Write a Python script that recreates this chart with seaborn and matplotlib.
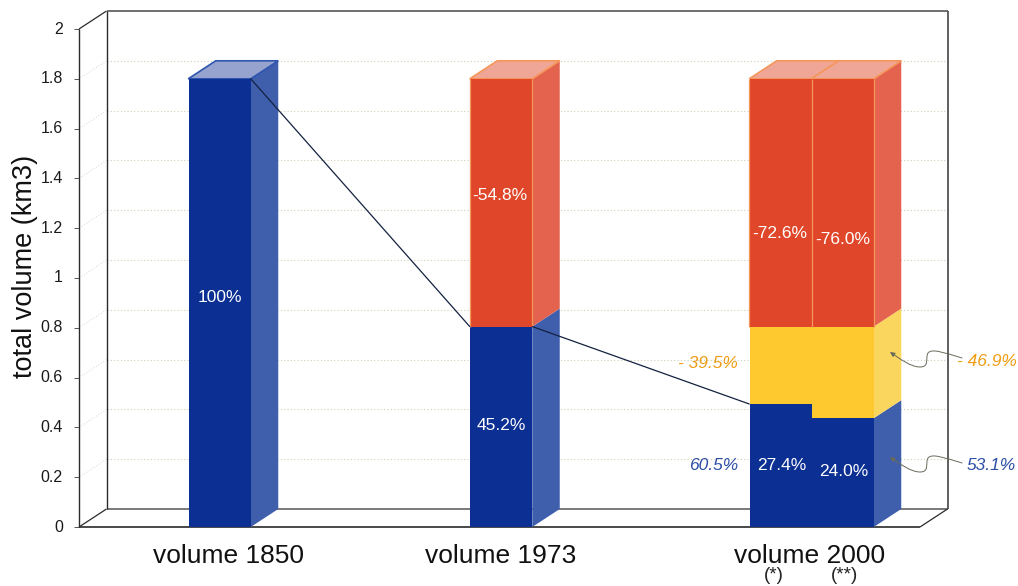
import numpy as np
import pandas as pd
import matplotlib
matplotlib.use("Agg")
import matplotlib.pyplot as plt
from matplotlib.path import Path
from matplotlib.patches import FancyArrowPatch
from matplotlib.transforms import Affine2D
import seaborn as sns

# ---- data ----
group_labels = ["volume 1850", "volume 1973", "volume 2000"]
sub_labels = ["(*)", "(**)"]
total_volume = [1.80, 1.80, 1.80, 1.80]
mid_level = [np.nan, np.nan, 0.805, 0.805]
remaining = [1.80, 0.805, 0.494, 0.437]
y_ticks = [0, 0.2, 0.4, 0.6, 0.8, 1, 1.2, 1.4, 1.6, 1.8, 2]
y_tick_labels = ["0", "0.2", "0.4", "0.6", "0.8", "1", "1.2", "1.4", "1.6", "1.8", "2"]
inside_labels = ["100%", "-54.8%", "45.2%", "-72.6%", "-76.0%", "27.4%", "24.0%"]
orange_labels = ["- 39.5%", "- 46.9%"]
blue_labels = ["60.5%", "53.1%"]

# ---- layout (x axis is laid out in the picture's own unit) ----
W, H = 1018, 586
centres = [219.5, 501, 780.5, 842.5]
bar_w = 62.0
X0, X1 = 79, 920
DX = 27.5
DY = 18 / 249.0

BLUE, BLUE_S, BLUE_T = "#0B2F93", "#3F5FAD", "#95A3CE"
RED, RED_S, RED_T = "#E0472A", "#E4634F", "#F0A696"
YEL, YEL_S = "#FDC92F", "#FBD65E"
EDGE_R = "#F5965A"

sns.set_style("white")
plt.rcParams["font.family"] = ["Liberation Sans", "DejaVu Sans"]

fig = plt.figure(figsize=(W / 100, H / 100), dpi=100)
ax = fig.add_axes([X0 / W, (H - 527) / H, (X1 - X0) / W, 498 / H])
px = Affine2D().scale(1 / W, -1 / H).translate(0, 1) + fig.transFigure

df = pd.DataFrame({"x": centres, "total": total_volume, "mid": mid_level, "rem": remaining})


def stack(col, data, color):
    sns.barplot(data=data, x="x", y=col, native_scale=True, width=1.0, color=color,
                saturation=1, ax=ax, zorder=5, errorbar=None, linewidth=0)


stack("total", df[df.x > 300], RED)
stack("mid", df[df.mid.notna()], YEL)
stack("rem", df, BLUE)
ax.set_xlim(X0, X1)
ax.set_ylim(0, 2)
sns.despine(ax=ax, left=True, bottom=True, top=True, right=True)
ax.set_xlabel("")
ax.set_ylabel("")


def poly(xs, ys, color, z=4, edge=None, lw=0):
    ax.fill(xs, ys, facecolor=color, edgecolor=edge or color, linewidth=lw, clip_on=False, zorder=z)


def side(x_right, y0, y1, color):
    poly([x_right, x_right + DX, x_right + DX, x_right],
         [y0, y0 + DY, y1 + DY, y1], color)


def top(x_left, x_right, y, color, edge):
    poly([x_left, x_right, x_right + DX, x_left + DX],
         [y, y, y + DY, y + DY], color, edge=edge, lw=1.2)


half = bar_w / 2 + 0.25
# bar 1
r = centres[0] + half
side(r, 0, remaining[0], BLUE_S)
top(centres[0] - half, r, remaining[0], BLUE_T, "#2F55B0")
# bar 2
r = centres[1] + half
side(r, 0, remaining[1], BLUE_S)
side(r, remaining[1], total_volume[1], RED_S)
top(centres[1] - half, r, total_volume[1], RED_T, EDGE_R)
# bar 3
r = centres[3] + half
side(r, 0, remaining[3], BLUE_S)
side(r, remaining[3], mid_level[3], YEL_S)
side(r, mid_level[3], total_volume[3], RED_S)
top(centres[2] - half, centres[2] + half, total_volume[2], RED_T, EDGE_R)
top(centres[3] - half, r, total_volume[3], RED_T, EDGE_R)

# thin orange outlines on the red parts only
edge_kw = dict(color=EDGE_R, lw=0.9, clip_on=False, zorder=6, solid_capstyle="butt")
for x_edge, lo, hi in [
    (centres[1] - half, remaining[1], total_volume[1]),
    (centres[1] + half, remaining[1], total_volume[1]),
    (centres[2] - half, mid_level[2], total_volume[2]),
    (centres[2] + half, mid_level[2], total_volume[2]),
    (centres[3] + half, mid_level[3], total_volume[3]),
]:
    ax.plot([x_edge, x_edge], [lo, hi], **edge_kw)

# ---- 3D frame and gridlines ----
FRAME = "#2b2b2b"
BX0, BX1 = X0 + DX, X1 + DX
for t in y_ticks[1:-1]:
    ax.plot([BX0, BX1], [t + DY, t + DY], color="#cfcfb8", lw=0.8, ls=(0, (1, 2)),
            clip_on=False, zorder=1)
    ax.plot([X0, BX0], [t, t + DY], color="#cfd3d8", lw=0.7, ls=(0, (1, 2)),
            clip_on=False, zorder=1)
seg = dict(clip_on=False, zorder=2, solid_capstyle="butt")
ax.plot([X0, X1], [0, 0], color="#3a3a3a", lw=1.3, **seg)
ax.plot([BX0, BX1], [DY, DY], color="#555555", lw=1.1, **seg)
ax.plot([X0, X0], [0, 2], color=FRAME, lw=1.0, **seg)
ax.plot([BX0, BX0], [DY, 2 + DY], color=FRAME, lw=1.0, **seg)
ax.plot([BX1, BX1], [DY, 2 + DY], color="#444444", lw=1.2, **seg)
ax.plot([BX0, BX1], [2 + DY, 2 + DY], color="#555555", lw=1.2, **seg)
ax.plot([X0, BX0], [0, DY], color=FRAME, lw=0.9, **seg)
ax.plot([X0, BX0], [2, 2 + DY], color=FRAME, lw=0.9, **seg)
ax.plot([X1, BX1], [0, DY], color=FRAME, lw=0.9, **seg)

# ---- connecting lines ----
link = dict(color="#14213f", lw=0.9, clip_on=False, zorder=7)
ax.plot([centres[0] + half, centres[1] - half], [remaining[0], remaining[1]], **link)
ax.plot([centres[1] + half, centres[2] - half], [remaining[1], remaining[2]], **link)

# ---- axes text ----
ax.set_yticks(y_ticks, y_tick_labels, fontsize=11.5, color="#1a1a1a")
ax.tick_params(axis="y", length=3.6, width=0.7, color="#555555", pad=8, left=True)
for lab in ax.get_yticklabels():
    lab.set_transform(lab.get_transform() + Affine2D().translate(0, 1.5))
ax.set_xticks([228.5, 501, 810], group_labels, fontsize=19, color="#111111")
ax.tick_params(axis="x", length=0, pad=12)
fig.text(25.5 / W, 1 - 266 / H, "total volume (km3)", rotation=90, fontsize=19.5,
         ha="center", va="center", color="#111111")
for x, s in zip([774, 844], sub_labels):
    fig.text(x / W, 1 - 575 / H, s, fontsize=13.5, ha="center", va="center", color="#222222")

inside_pos = [(220, 298), (500, 195), (501, 425), (780, 234), (843, 240), (782, 466), (844, 472)]
for (x, y), s in zip(inside_pos, inside_labels):
    ax.text(x, y, s, transform=px, color="white", fontsize=12.5, ha="center", va="center", zorder=8)

for (x, y), s in zip([(708, 364), (987, 362)], orange_labels):
    ax.text(x, y, s, transform=px, color="#EE9C12", fontsize=12.5, style="italic",
            ha="center", va="center", clip_on=False, zorder=8)
for (x, y), s in zip([(714, 465), (991, 465)], blue_labels):
    ax.text(x, y, s, transform=px, color="#2A4DA6", fontsize=12.5, style="italic",
            ha="center", va="center", clip_on=False, zorder=8)

# ---- wavy arrows ----
for oy in [0, 105]:
    verts = [(962, 358 + oy), (945, 353 + oy), (932, 348 + oy), (928, 353 + oy),
             (925, 358 + oy), (930, 367 + oy), (920, 367 + oy), (911, 367 + oy),
             (900, 359 + oy), (890, 352 + oy)]
    codes = [Path.MOVETO] + [Path.CURVE4] * 9
    arrow = FancyArrowPatch(path=Path(verts, codes), arrowstyle="-|>", mutation_scale=7,
                            color="#6a6a5a", lw=0.7, transform=px, clip_on=False, zorder=9)
    ax.add_patch(arrow)

fig.savefig("out.png", dpi=100, facecolor="white")
